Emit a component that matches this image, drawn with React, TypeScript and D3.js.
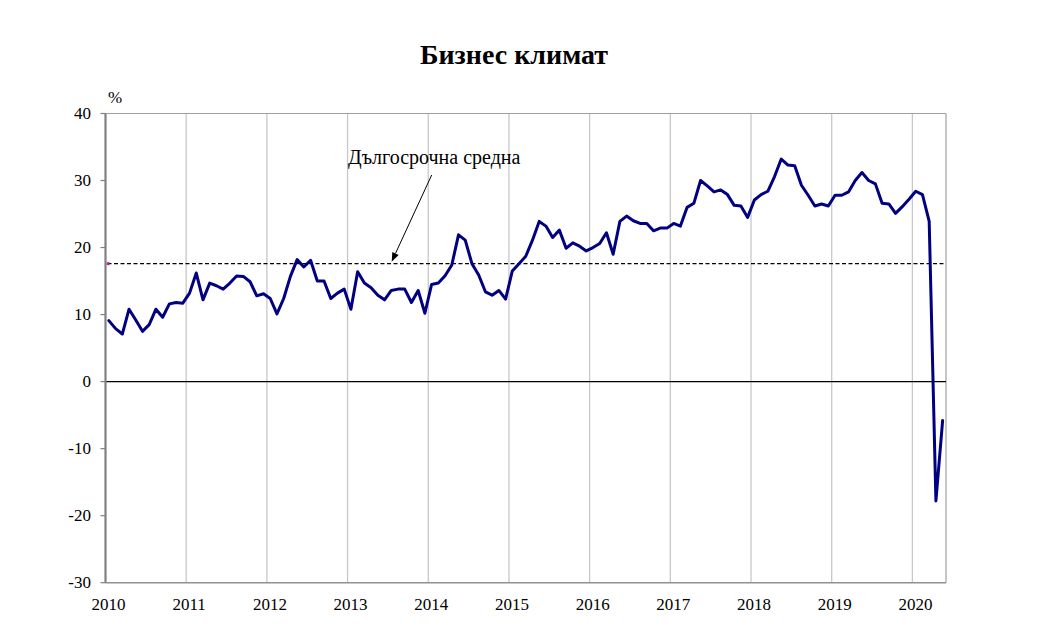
import React from "react";
import * as d3 from "d3";

const title = "Бизнес климат";
const annotation = "Дългосрочна средна";
const unitLabel = "%";
const yearLabels = ["2010", "2011", "2012", "2013", "2014", "2015", "2016", "2017", "2018", "2019", "2020"];
const yTicks = [40, 30, 20, 10, 0, -10, -20, -30];
const longTermAverage = 17.6;
// monthly values, Jan 2010 – May 2020
const businessClimate = [
  9.1, 7.9, 7.1, 10.8, 9.2, 7.5, 8.5, 10.8, 9.6, 11.6, 11.8, 11.7,
  13.2, 16.2, 12.2, 14.7, 14.3, 13.8, 14.7, 15.75, 15.7, 14.9, 12.8, 13.1,
  12.4, 10.1, 12.4, 15.7, 18.2, 17.1, 18.1, 15.0, 15.0, 12.4, 13.2, 13.8,
  10.8, 16.4, 14.7, 14.0, 12.9, 12.2, 13.6, 13.8, 13.8, 11.8, 13.6, 10.2,
  14.5, 14.7, 15.8, 17.4, 21.9, 21.1, 17.6, 15.9, 13.4, 12.9, 13.6, 12.3,
  16.5, 17.6, 18.7, 21.1, 23.9, 23.2, 21.5, 22.6, 19.9, 20.7, 20.2, 19.5,
  20.0, 20.6, 22.2, 19.0, 23.9, 24.7, 24.0, 23.6, 23.6, 22.5, 22.9, 22.9,
  23.6, 23.2, 26.0, 26.6, 30.0, 29.2, 28.3, 28.6, 27.9, 26.3, 26.2, 24.5,
  27.1, 27.9, 28.4, 30.6, 33.2, 32.3, 32.2, 29.3, 27.8, 26.2, 26.5, 26.2,
  27.8, 27.8, 28.3, 30.0, 31.2, 30.0, 29.5, 26.6, 26.5, 25.1, 26.1, 27.2,
  28.4, 27.9, 23.9, -17.8, -5.8,
];

const W = 1043;
const H = 631;
const L = 105.5, R = 946, T = 113.5, B = 582.7;
const FONT = "'Liberation Serif', 'Times New Roman', serif";

export default function App() {
  const n = businessClimate.length;
  const x = d3.scaleLinear().domain([0, n]).range([L, R]);
  const y = d3.scaleLinear().domain([-30, 40]).range([B, T]);
  const line = d3
    .line<number>()
    .x((_, i) => x(i + 0.5))
    .y((d) => y(d));

  const ax1 = 431.7, ay1 = 175, ax2 = 391.7, ay2 = y(longTermAverage) - 2;
  const ang = Math.atan2(ay2 - ay1, ax2 - ax1);
  const ah = 9, aw = 3.5;
  const bx = ax2 - ah * Math.cos(ang), by = ay2 - ah * Math.sin(ang);
  const head = `M${ax2},${ay2} L${bx + aw * Math.sin(ang)},${by - aw * Math.cos(ang)} L${bx - aw * Math.sin(ang)},${by + aw * Math.cos(ang)} Z`;

  return (
    <svg width={W} height={H} style={{ position: "absolute", left: 0, top: 0, background: "#fff" }} fontFamily={FONT}>
      <rect x={0} y={0} width={W} height={H} fill="#fff" />
      <text x={514} y={64} textAnchor="middle" fontSize={28} fontWeight="bold" fill="#000">{title}</text>
      {/* year gridlines */}
      {yearLabels.map((lab, k) =>
        k === 0 ? null : (
          <line key={lab} x1={x(k * 12)} x2={x(k * 12)} y1={T} y2={B} stroke="#c8c8c8" strokeWidth={1.3} />
        )
      )}
      {/* frame */}
      <line x1={L} x2={R} y1={T} y2={T} stroke="#a0a0a0" strokeWidth={1.2} />
      <line x1={R} x2={R} y1={T} y2={B} stroke="#a0a0a0" strokeWidth={1.2} />
      <line x1={L} x2={R} y1={B} y2={B} stroke="#909090" strokeWidth={1.5} />
      {/* zero line */}
      <line x1={L} x2={R} y1={y(0)} y2={y(0)} stroke="#000" strokeWidth={1.2} />
      {/* long-term average */}
      <line x1={L + 2} x2={R} y1={y(longTermAverage)} y2={y(longTermAverage)} stroke="#000" strokeWidth={1.3} strokeDasharray="4,2.5" />
      <rect x={L + 1} y={y(longTermAverage) - 1.5} width={3} height={3} fill="#c02890" />
      {/* left axis */}
      <line x1={L} x2={L} y1={T} y2={B} stroke="#808080" strokeWidth={2.2} />
      {yTicks.map((t) => (
        <g key={t}>
          <line x1={L - 5} x2={L} y1={y(t)} y2={y(t)} stroke="#808080" strokeWidth={1.2} />
          <text x={91} y={y(t)} textAnchor="end" dominantBaseline="central" fontSize={17} fill="#000">{t}</text>
        </g>
      ))}
      <text x={108} y={103} fontSize={17} fill="#000">{unitLabel}</text>
      {yearLabels.map((lab, k) => (
        <text key={lab} x={x(k * 12) + 3} y={604} textAnchor="middle" dominantBaseline="central" fontSize={17} fill="#000">{lab}</text>
      ))}
      {/* series */}
      <path d={line(businessClimate) || ""} fill="none" stroke="#000080" strokeWidth={3} strokeLinejoin="round" strokeLinecap="round" />
      {/* annotation */}
      <text x={348} y={164} fontSize={20} fill="#000">{annotation}</text>
      <line x1={ax1} y1={ay1} x2={bx} y2={by} stroke="#000" strokeWidth={1} />
      <path d={head} fill="#000" />
    </svg>
  );
}
